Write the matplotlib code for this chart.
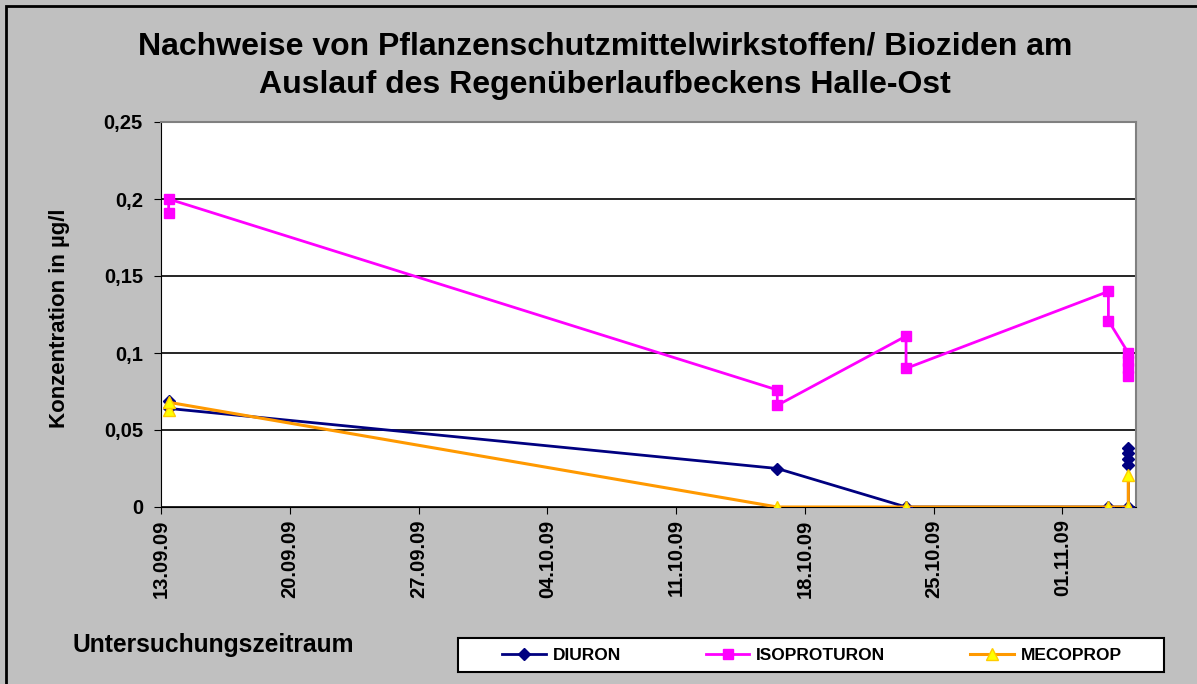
import datetime as dt
import matplotlib
matplotlib.use("Agg")
import matplotlib.pyplot as plt
import matplotlib.dates as mdates
from matplotlib.patches import Rectangle

plt.rcParams['font.family'] = ['Liberation Sans', 'DejaVu Sans']
plt.rcParams['font.weight'] = 'bold'

# Probenahmezeitpunkte
t0 = dt.datetime(2009, 9, 13, 10)
t1 = dt.datetime(2009, 10, 16, 12)
t2 = dt.datetime(2009, 10, 23, 12)
t3 = dt.datetime(2009, 11, 3, 12)
t4 = dt.datetime(2009, 11, 4, 14)

diuron_t = [t0, t0, t1, t2, t3, t4, t4, t4, t4, t4]
diuron_v = [0.069, 0.064, 0.025, 0.0, 0.0, 0.0, 0.027, 0.031, 0.035, 0.038]

iso_t = [t0, t0, t1, t1, t2, t2, t3, t3, t4, t4, t4, t4]
iso_v = [0.191, 0.2, 0.076, 0.066, 0.111, 0.09, 0.14, 0.121, 0.1, 0.095, 0.09, 0.085]

meco_t = [t0, t0, t1, t2, t3, t4, t4]
meco_v = [0.063, 0.068, 0.0, 0.0, 0.0, 0.0, 0.021]

tick_dates = [dt.datetime(2009, 9, 13) + dt.timedelta(days=7 * i) for i in range(8)]
yticks = [0, 0.05, 0.1, 0.15, 0.2, 0.25]
ytick_labels = ["0", "0,05", "0,1", "0,15", "0,2", "0,25"]

W, H = 1197, 684
fig = plt.figure(figsize=(W / 100, H / 100), dpi=100)
fig.patch.set_facecolor("#C0C0C0")
# Rahmen (nur oben/links im Bild)
fig.patches.append(Rectangle((6 / W, -0.05), 1.2, (H - 6) / H + 0.05,
                             transform=fig.transFigure, fill=False,
                             edgecolor="black", linewidth=2))

ax = fig.add_axes([161 / W, 177 / H, (1136 - 161) / W, (507 - 122) / H])
ax.set_facecolor("white")

ax.plot(diuron_t, diuron_v, color="#000080", lw=2, marker="D", ms=6,
        mfc="#000080", mec="#000080", label="DIURON", zorder=3)
ax.plot(iso_t, iso_v, color="#FF00FF", lw=2, marker="s", ms=7,
        mfc="#FF00FF", mec="#FF00FF", label="ISOPROTURON", zorder=3)
ax.plot(meco_t, meco_v, color="#FF9900", lw=2.2, marker="^", ms=8,
        mfc="#FFFF00", mec="#FFCC00", label="MECOPROP", zorder=4)

ax.set_xlim(dt.datetime(2009, 9, 13), dt.datetime(2009, 11, 5))
ax.set_ylim(0, 0.25)
ax.set_xticks(tick_dates)
ax.xaxis.set_major_formatter(mdates.DateFormatter("%d.%m.%y"))
ax.set_yticks(yticks)
ax.set_yticklabels(ytick_labels)
ax.tick_params(axis="x", rotation=90, labelsize=14.5, length=5, pad=4)
ax.tick_params(axis="y", labelsize=14.5, length=5, pad=8)
for lab in ax.get_xticklabels() + ax.get_yticklabels():
    lab.set_fontweight("bold")

ax.yaxis.grid(True, color="black", lw=1.2)
ax.set_axisbelow(True)
for side in ["top", "right"]:
    ax.spines[side].set_color("#808080")
    ax.spines[side].set_linewidth(1.5)
ax.spines["left"].set_color("black")
ax.spines["bottom"].set_color("black")

fig.text(60 / W, 1 - 318 / H, "Konzentration in µg/l", rotation=90,
         ha="center", va="center", fontsize=16, fontweight="bold")

fig.text(605 / W, 1 - 66 / H,
         "Nachweise von Pflanzenschutzmittelwirkstoffen/ Bioziden am\n"
         "Auslauf des Regenüberlaufbeckens Halle-Ost",
         ha="center", va="center", fontsize=23, fontweight="bold", linespacing=1.35)
fig.text(73 / W, 1 - 645 / H, "Untersuchungszeitraum",
         ha="left", va="center", fontsize=17.7, fontweight="bold")

# Legendenkasten
fig.patches.append(Rectangle((458 / W, 1 - 672 / H), (1164 - 458) / W, (672 - 638) / H,
                             transform=fig.transFigure, facecolor="white",
                             edgecolor="black", linewidth=1.5))
handles, labels = ax.get_legend_handles_labels()
leg = fig.legend(handles, labels, loc="center", bbox_to_anchor=(812 / W, 1 - 655 / H),
                 ncol=3, frameon=False, fontsize=12.5, columnspacing=4.9,
                 handlelength=2.5, handletextpad=0.4)
for txt in leg.get_texts():
    txt.set_fontweight("bold")

fig.savefig("out.png", dpi=100, facecolor=fig.get_facecolor())
